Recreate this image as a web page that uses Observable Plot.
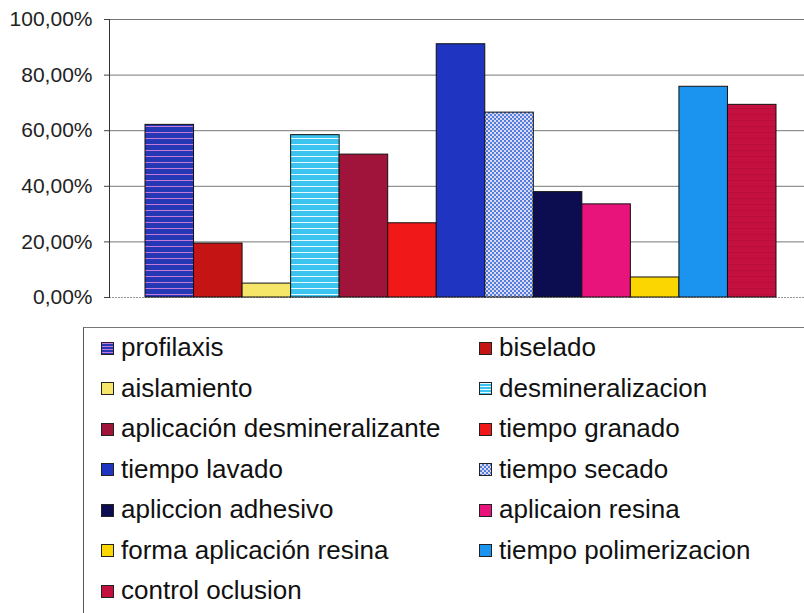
<!DOCTYPE html>
<html>
<head>
<meta charset="utf-8">
<script src="https://cdn.jsdelivr.net/npm/d3@7"></script>
<script src="https://cdn.jsdelivr.net/npm/@observablehq/plot@0.6"></script>
<style>
  html, body { margin: 0; padding: 0; background: #fff; }
  body { width: 804px; height: 613px; position: relative; overflow: hidden; font-family: "Liberation Sans", Arial, sans-serif; }
  #chart { position: absolute; left: 0; top: 0; }
  #legend {
    position: absolute; left: 83px; top: 327px; width: 760px; height: 320px;
    border-left: 1px solid #555; border-top: 1px solid #777; box-sizing: border-box;
  }
  .item { position: absolute; display: flex; align-items: center; font-size: 26px; line-height: 30px; height: 30px; color: #111; white-space: nowrap; }
  .sw { width: 13px; height: 13px; border: 1px solid #222; margin-right: 7px; box-sizing: border-box; flex: none; margin-top: 2px; }
</style>
</head>
<body>
<div id="chart"></div>
<div id="legend"></div>
<script>
// Series (one category group), values in percent
const series = [
  "profilaxis", "biselado", "aislamiento", "desmineralizacion",
  "aplicación desmineralizante", "tiempo granado", "tiempo lavado", "tiempo secado",
  "apliccion adhesivo", "aplicaion resina", "forma aplicación resina",
  "tiempo polimerizacion", "control oclusion"
];
const values = [62.1, 19.4, 5.0, 58.4, 51.4, 26.7, 91.1, 66.5, 37.9, 33.5, 7.2, 75.8, 69.3];
const baseColors = [
  "#2437b5", "#c41414", "#f5e66a", "#3cc4f0",
  "#a0143c", "#f01818", "#1f34c0", "#7fa2e6",
  "#0c0c50", "#e8147c", "#fcd600", "#1a94ee", "#c4103e"
];
const yTicks = [0, 20, 40, 60, 80, 100];

const data = series.map((s, i) => ({ series: s, value: values[i] }));
const fills = series.map((s, i) => `url(#pat${i})`);

const chart = Plot.plot({
  width: 804,
  height: 315,
  marginLeft: 109,
  marginRight: 0,
  marginTop: 19,
  marginBottom: 18,
  style: { fontFamily: "Liberation Sans, Arial, sans-serif", fontSize: "21px", color: "#222", background: "#fff" },
  x: { domain: series, range: [145, 776], padding: 0, round: false, axis: null },
  y: { domain: [0, 100], ticks: yTicks, label: null },
  color: { domain: series, range: fills },
  marks: [
    Plot.gridY(yTicks.filter(d => d > 0), { stroke: "#777", strokeOpacity: 1 }),
    Plot.gridY([0], { stroke: "#999", strokeOpacity: 1, strokeDasharray: "2,1" }),
    Plot.barY(data, { x: "series", y: "value", fill: "series", stroke: "#111", strokeWidth: 1, inset: 0 }),
    Plot.frame({ anchor: "left", stroke: "#333" }),
    Plot.axisY({
      ticks: yTicks, tickSize: 5, tickPadding: 12, stroke: "#444", label: null,
      tickFormat: d => d.toFixed(2).replace(".", ",") + "%"
    })
  ]
});

// Patterns used as bar fills
const ns = "http://www.w3.org/2000/svg";
const defs = document.createElementNS(ns, "defs");
function pattern(id, w, h, base, extra) {
  const p = document.createElementNS(ns, "pattern");
  p.setAttribute("id", id);
  p.setAttribute("patternUnits", "userSpaceOnUse");
  p.setAttribute("width", w);
  p.setAttribute("height", h);
  const r = document.createElementNS(ns, "rect");
  r.setAttribute("width", w); r.setAttribute("height", h); r.setAttribute("fill", base);
  p.appendChild(r);
  (extra || []).forEach(e => {
    const el = document.createElementNS(ns, "rect");
    Object.entries(e).forEach(([k, v]) => el.setAttribute(k, v));
    p.appendChild(el);
  });
  defs.appendChild(p);
}
baseColors.forEach((c, i) => {
  const s = series[i];
  if (s === "profilaxis") {
    pattern(`pat${i}`, 4, 6, c, [{ x: 0, y: 0, width: 4, height: 1, fill: "#c879d8" }]);
  } else if (s === "desmineralizacion") {
    pattern(`pat${i}`, 4, 6, c, [{ x: 0, y: 0, width: 4, height: 1, fill: "#e8f8ff" }]);
  } else if (s === "tiempo secado") {
    pattern(`pat${i}`, 4, 4, "#e0d8f0", [
      { x: 0, y: 0, width: 2, height: 2, fill: "#4f80dc" },
      { x: 2, y: 2, width: 2, height: 2, fill: "#4f80dc" }
    ]);
  } else if (s === "control oclusion") {
    pattern(`pat${i}`, 4, 6, c, [{ x: 0, y: 0, width: 4, height: 1, fill: "#b80c3a" }]);
  } else {
    pattern(`pat${i}`, 4, 4, c, []);
  }
});
chart.insertBefore(defs, chart.firstChild);
document.getElementById("chart").appendChild(chart);

// Legend (two columns)
const legend = document.getElementById("legend");
const swatchCss = [
  "background: repeating-linear-gradient(#c879d8 0 1px, #2437b5 1px 3px);",
  "background: #c41414;",
  "background: #f5e66a;",
  "background: repeating-linear-gradient(#e8f8ff 0 1px, #3cc4f0 1px 3px);",
  "background: #a0143c;",
  "background: #f01818;",
  "background: #1f34c0;",
  "background: repeating-conic-gradient(#4f80dc 0 25%, #e0d8f0 0 50%) 0 0/4px 4px;",
  "background: #0c0c50;",
  "background: #e8147c;",
  "background: #fcd600;",
  "background: #1a94ee;",
  "background: #c4103e;"
];
series.forEach((s, i) => {
  const col = i % 2, row = Math.floor(i / 2);
  const div = document.createElement("div");
  div.className = "item";
  div.style.left = (col === 0 ? 17 : 395) + "px";
  div.style.top = (4 + row * 40.5) + "px";
  div.innerHTML = `<span class="sw" style="${swatchCss[i]}"></span><span>${s}</span>`;
  legend.appendChild(div);
});
</script>
</body>
</html>
